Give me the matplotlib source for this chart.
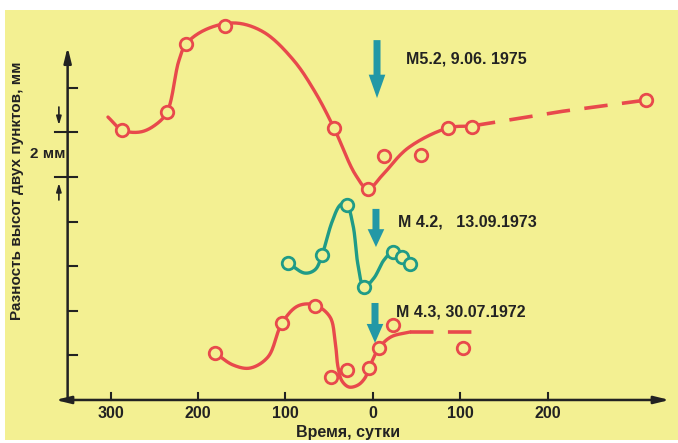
import numpy as np
import matplotlib
matplotlib.use("Agg")
import matplotlib.pyplot as plt
from matplotlib.patches import Rectangle, FancyArrow

plt.rcParams['font.family'] = ['Liberation Sans', 'DejaVu Sans']

# время (сутки относительно землетрясения), разность высот (мм)
# M5.2, 9.06.1975
t1975 = [-286.9, -235.4, -213.7, -169.1, -44.6, -5.7, 12.6, 54.9, 85.7, 113.1, 312.0]
h1975 = [12.11, 12.91, 15.96, 16.77, 12.20, 9.46, 10.94, 10.99, 12.20, 12.24, 13.45]
line1975_t = [-302.9, -286.9, -266.0, -249.0, -235.4, -222.0, -213.7, -192.0, -158.0,
              -125.0, -91.0, -66.0, -44.6, -20.0, -5.7, 10.0, 40.0, 85.7, 113.1]
line1975_h = [12.69, 12.11, 12.02, 12.33, 12.91, 15.20, 15.96, 16.60, 16.91,
              16.50, 15.25, 13.80, 12.20, 10.10, 9.46, 10.05, 11.30, 12.20, 12.29]
dash1975_t = [113.1, 217.0, 312.0]
dash1975_h = [12.29, 12.95, 13.45]

# M4.2, 13.09.1973
t1973 = [-97.1, -58.3, -29.7, -10.3, 22.9, 33.1, 42.3]
h1973 = [6.14, 6.50, 8.74, 5.07, 6.64, 6.41, 6.10]
line1973_t = [-97.1, -77.7, -66.0, -58.3, -46.9, -37.7, -31.0, -22.9, -17.1, -10.3,
              1.1, 12.6, 22.9, 33.1, 42.3]
line1973_h = [6.14, 5.69, 5.85, 6.50, 7.98, 8.74, 8.85, 7.85, 6.05, 5.07,
              5.47, 6.28, 6.64, 6.41, 6.10]

# M4.3, 30.07.1972
t1972 = [-180.6, -104.0, -66.3, -48.0, -29.7, -4.6, 6.9, 22.9, 102.9]
h1972 = [2.11, 3.45, 4.22, 1.03, 1.35, 1.43, 2.33, 3.36, 2.33]
line1972_t = [-180.6, -160.0, -140.6, -120.0, -104.0, -85.7, -66.3, -49.1, -43.4,
              -40.0, -35.4, -27.4, -17.1, -9.1, -4.6, 6.9, 20.6, 42.3]
line1972_h = [2.11, 1.57, 1.43, 1.93, 3.45, 4.22, 4.26, 3.72, 2.69,
              1.48, 0.85, 0.58, 0.67, 0.99, 1.43, 2.33, 2.83, 3.05]
dash1972_t = [42.3, 114.3]
dash1972_h = [3.05, 3.05]

xtick_pos = [-300, -200, -100, 0, 100, 200]
xtick_labels = ['300', '200', '100', '0', '100', '200']
ytick_pos = [2, 4, 6, 8, 10, 12, 14]

RED = '#e8494c'
TEAL = '#1f9b87'
ARROW = '#2398a6'
BG = '#f3f092'
INK = '#222222'


def smooth(xs, ys, n=25):
    # centripetal Catmull-Rom, в примерно пиксельном масштабе
    sx, sy = 0.875, 22.3
    p = np.column_stack([np.asarray(xs) * sx, np.asarray(ys) * sy])
    p = np.vstack([2 * p[0] - p[1], p, 2 * p[-1] - p[-2]])
    out = []
    for i in range(1, len(p) - 2):
        p0, p1, p2, p3 = p[i - 1], p[i], p[i + 1], p[i + 2]
        k0 = 0.0
        k1 = k0 + np.linalg.norm(p1 - p0) ** 0.5 + 1e-9
        k2 = k1 + np.linalg.norm(p2 - p1) ** 0.5 + 1e-9
        k3 = k2 + np.linalg.norm(p3 - p2) ** 0.5 + 1e-9
        t = np.linspace(k1, k2, n)[:, None]
        a1 = (k1 - t) / (k1 - k0) * p0 + (t - k0) / (k1 - k0) * p1
        a2 = (k2 - t) / (k2 - k1) * p1 + (t - k1) / (k2 - k1) * p2
        a3 = (k3 - t) / (k3 - k2) * p2 + (t - k2) / (k3 - k2) * p3
        b1 = (k2 - t) / (k2 - k0) * a1 + (t - k0) / (k2 - k0) * a2
        b2 = (k3 - t) / (k3 - k1) * a2 + (t - k1) / (k3 - k1) * a3
        c = (k2 - t) / (k2 - k1) * b1 + (t - k1) / (k2 - k1) * b2
        out.append(c if i == 1 else c[1:])
    out = np.vstack(out)
    return out[:, 0] / sx, out[:, 1] / sy


fig = plt.figure(figsize=(6.78, 4.43), dpi=100)
fig.patch.set_facecolor('white')
ax = fig.add_axes([0, 0, 1, 1])
ax.set_facecolor('none')
ax.set_xlim(-426.3, 348.6)
ax.set_ylim(-1.93, 17.94)
ax.axis('off')
ax.add_patch(Rectangle((5 / 678, 3 / 443), 673 / 678, 430 / 443,
                       transform=fig.transFigure, facecolor=BG,
                       edgecolor='none', zorder=-10, clip_on=False))

# оси
ax.annotate('', xy=(-363, 0), xytext=(339, 0),
            arrowprops=dict(arrowstyle='<|-|>,head_length=0.9,head_width=0.22',
                            lw=1.8, color=INK, shrinkA=0, shrinkB=0))
ax.annotate('', xy=(-349, 15.83), xytext=(-349, 0),
            arrowprops=dict(arrowstyle='-|>,head_length=0.9,head_width=0.22',
                            lw=1.8, color=INK, shrinkA=0, shrinkB=0))
for x in xtick_pos:
    ax.plot([x, x], [0, 0.32], color=INK, lw=1.5)
    ax.text(x, -0.6, xtick_labels[xtick_pos.index(x)], ha='center', va='center',
            fontsize=11.5, fontweight='bold', color=INK)
for y in ytick_pos:
    x0 = -363 if y in (10, 12) else -349
    ax.plot([x0, -338], [y, y], color=INK, lw=1.5)

# шкала 2 мм
ax.annotate('', xy=(-359, 12.33), xytext=(-359, 13.14),
            arrowprops=dict(arrowstyle='-|>,head_length=0.5,head_width=0.15',
                            lw=1.2, color=INK, shrinkA=0, shrinkB=0))
ax.annotate('', xy=(-359, 9.73), xytext=(-359, 8.97),
            arrowprops=dict(arrowstyle='-|>,head_length=0.5,head_width=0.15',
                            lw=1.2, color=INK, shrinkA=0, shrinkB=0))
ax.text(-372, 11.03, '2 мм', ha='center', va='center', fontsize=11,
        fontweight='bold', color=INK)

# кривые
def curve(lt, lh, mt, mh, color, dt=None, dh=None):
    x, y = smooth(lt, lh)
    ax.plot(x, y, color=color, lw=2.4, solid_capstyle='round', zorder=3)
    if dt is not None:
        ax.plot(dt, dh, color=color, lw=2.6, dashes=(6.5, 4), zorder=3)
    ax.plot(mt, mh, 'o', ms=9, mfc=BG, mec=color, mew=2.0, zorder=4)


curve(line1975_t, line1975_h, t1975, h1975, RED, dash1975_t, dash1975_h)
curve(line1973_t, line1973_h, t1973, h1973, TEAL)
curve(line1972_t, line1972_h, t1972, h1972, RED, dash1972_t, dash1972_h)

# стрелки-события
for x, top, tip, hl in [(4.6, 16.14, 13.54, 1.05), (3.4, 8.57, 6.86, 0.8),
                        (2.3, 4.35, 2.56, 0.85)]:
    ax.add_patch(FancyArrow(x, top, 0, tip - top, width=8, head_width=19,
                            head_length=hl, length_includes_head=True,
                            color=ARROW, lw=0, zorder=5))

ax.text(37.7, 15.29, 'М5.2, 9.06. 1975', ha='left', va='center',
        fontsize=11.5, fontweight='bold', color=INK)
ax.text(28.6, 7.98, 'М 4.2,   13.09.1973', ha='left', va='center',
        fontsize=11.5, fontweight='bold', color=INK)
ax.text(26.3, 3.95, 'М 4.3, 30.07.1972', ha='left', va='center',
        fontsize=11.5, fontweight='bold', color=INK)

ax.text(-406.9, 9.37, 'Разность высот двух пунктов, мм', rotation=90,
        ha='center', va='center', fontsize=11, fontweight='bold', color=INK)
ax.text(-28.6, -1.48, 'Время, сутки', ha='center', va='center',
        fontsize=11.5, fontweight='bold', color=INK)

fig.savefig('out.png', dpi=100, facecolor=fig.get_facecolor())
